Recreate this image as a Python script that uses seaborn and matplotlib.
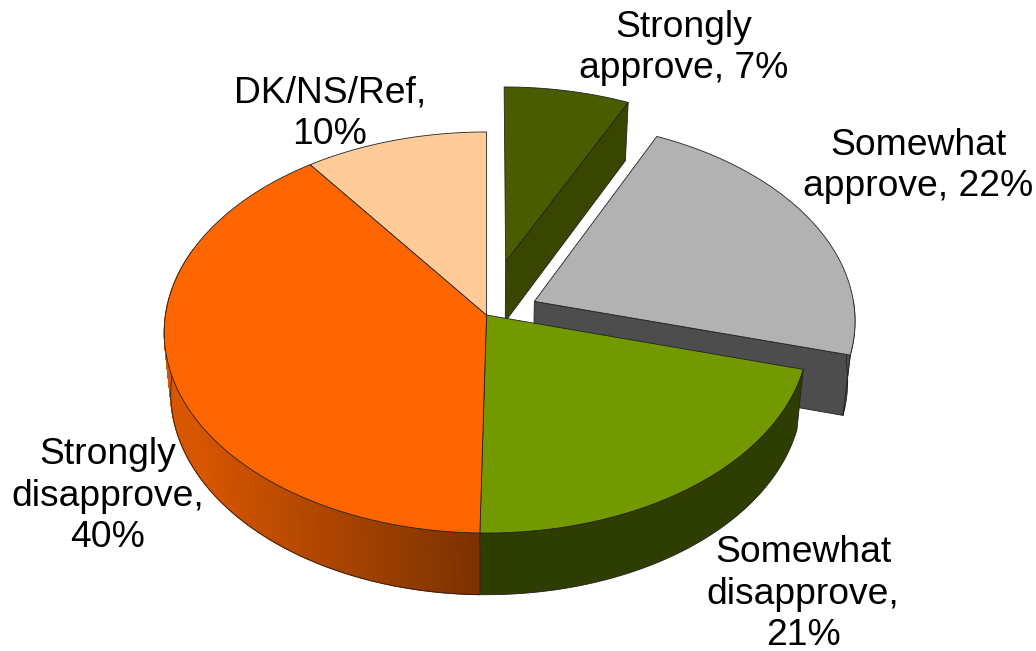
"""Exploded 3D-look approval pie, drawn with perspective from the shares."""

import matplotlib

matplotlib.use("Agg")
import matplotlib.pyplot as plt
import numpy as np
import seaborn as sns

# Data, clockwise from 12 o'clock
categories = ["Strongly approve", "Somewhat approve", "Somewhat disapprove",
              "Strongly disapprove", "DK/NS/Ref"]
shares = [7, 22.3, 21, 39.7, 10]
explode = [0.28, 0.165, 0, 0, 0]
top_colors = ["#4A5C00", "#B2B2B2", "#739900", "#FF6600", "#FFCC99"]
side_colors = ["#394600", "#4D4D4D", "#2E3D00", "#7A3100", "#FFCC99"]
label_texts = ["Strongly\napprove, 7%", "Somewhat\napprove, 22%", "Somewhat\ndisapprove,\n21%",
               "Strongly\ndisapprove,\n40%", "DK/NS/Ref,\n10%"]
label_xy = [(684, 48), (918, 166), (803, 594), (108, 496), (330, 114)]

# Pie geometry in pixels
CX, CY = 486.5, 315
RX, RY = 321, 199
TILT = 0.0873
DEPTH = 60
BASE_SHRINK = 0.98

sns.set_theme(style="white")
plt.rcParams["font.family"] = ["Liberation Sans", "DejaVu Sans"]


def project(ang, radius, dx, dy, base=False):
    """Disk coordinates to pixels, far side of the disk gets smaller."""
    xx = radius * np.sin(ang) + dx
    yy = radius * np.cos(ang) + dy
    p = 1 / (1 + TILT * yy)
    px = RX * xx * p
    py = -RY * yy * p
    if base:
        return CX + px * BASE_SHRINK, CY + py + DEPTH * p ** 0.3
    return CX + px, CY + py


def arc(a0, a1, n=160):
    return np.radians(np.linspace(a0, a1, n))


fig = plt.figure(figsize=(10.36, 6.51), dpi=100)
ax = fig.add_axes([0, 0, 1, 1])
ax.set_xlim(0, 1036)
ax.set_ylim(651, 0)
ax.axis("off")

edges = np.cumsum([0] + shares) * 3.6
mids = (edges[:-1] + edges[1:]) / 2
offsets = [(e * np.sin(np.radians(m)), e * np.cos(np.radians(m))) for e, m in zip(explode, mids)]


def draw_rim(i, a0, a1):
    dx, dy = offsets[i]
    ang = arc(a0, a1)
    tx, ty = project(ang, 1, dx, dy)
    bx, by = project(ang, 1, dx, dy, base=True)
    ax.fill(np.r_[tx, bx[::-1]], np.r_[ty, by[::-1]], fc=side_colors[i], ec="#222222", lw=0.6)


def draw_shaded_rim(i, a0, a1, palette):
    """Rim with a left to right shade, colour picked from the strip's x."""
    dx, dy = offsets[i]
    steps = np.linspace(a0, a1, 361)
    left = project(np.radians(a1), 1, dx, dy)[0]
    right = project(np.radians(a0), 1, dx, dy)[0]
    for s0, s1 in zip(steps[:-1], steps[1:]):
        ang = arc(s0, s1, 3)
        tx, ty = project(ang, 1, dx, dy)
        bx, by = project(ang, 1, dx, dy, base=True)
        pos = np.clip((tx.mean() - left) / (right - left), 0, 1)
        col = palette[int(pos * (len(palette) - 1))]
        ax.fill(np.r_[tx, bx[::-1]], np.r_[ty, by[::-1]], fc=col, ec=col, lw=0.8)
    # outlines stay on the patch zorder so the top face can cover them
    ang = arc(a0, a1)
    ax.plot(*project(ang, 1, dx, dy, base=True), color="#222222", lw=0.6, zorder=1)
    for a in (a0, 272):
        tx, ty = project(np.radians(a), 1, dx, dy)
        bx, by = project(np.radians(a), 1, dx, dy, base=True)
        ax.plot([tx, bx], [ty, by], color="#222222", lw=0.6, zorder=1)


def draw_cut(i, a):
    """Flat radial face of an exploded slice."""
    dx, dy = offsets[i]
    rr = np.array([0, 1.0])
    ang = np.radians(a)
    tx, ty = project(ang, rr, dx, dy)
    bx, by = project(ang, rr, dx, dy, base=True)
    ax.fill(np.r_[tx, bx[::-1]], np.r_[ty, by[::-1]], fc=side_colors[i], ec="#222222", lw=0.6)


def draw_top(i):
    dx, dy = offsets[i]
    ang = arc(edges[i], edges[i + 1])
    px, py = project(ang, 1, dx, dy)
    ox, oy = project(0.0, 0, dx, dy)
    ax.fill(np.r_[ox, px], np.r_[oy, py], fc=top_colors[i], ec="#222222", lw=0.6, joinstyle="round")


# Back to front: exploded slices first, main pie over them
draw_cut(0, edges[1])
draw_top(0)
draw_cut(1, edges[2])
draw_rim(1, 90, edges[2])
draw_top(1)

orange_shade = sns.blend_palette(["#D85600", "#7A3100"], n_colors=256)
draw_rim(2, edges[2], edges[3])
draw_shaded_rim(3, edges[3], 290, orange_shade)
for i in (2, 3, 4):
    draw_top(i)

for text, (tx, ty) in zip(label_texts, label_xy):
    ax.text(tx, ty, text, ha="center", va="center", fontsize=26.8, color="black", linespacing=1.24)

fig.savefig("out.png", dpi=100)
